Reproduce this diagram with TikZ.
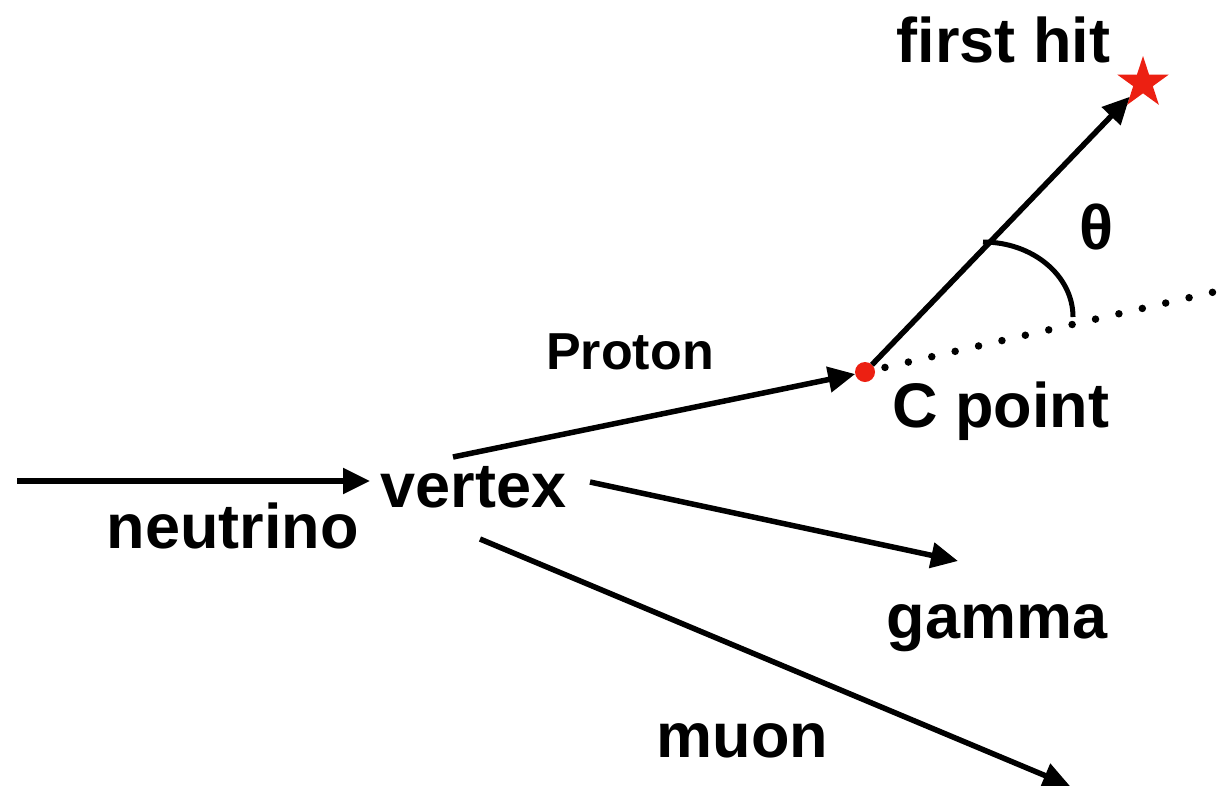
\documentclass[tikz,border=0pt]{standalone}
\usepackage{fontspec}
\setmainfont{Liberation Sans}
\usetikzlibrary{arrows.meta,shapes.geometric}
\definecolor{hitred}{RGB}{236,32,18}
\tikzset{
  every node/.style={inner sep=0pt, outer sep=0pt},
  lbl/.style={anchor=base, font=\fontsize{63}{63}\selectfont\bfseries},
  smalllbl/.style={anchor=base, font=\fontsize{52}{52}\selectfont\bfseries},
  track/.style={line width=5.5pt, -{Triangle[length=27pt, width=25pt]}},
  guide/.style={line width=7.5pt, line cap=round, dash pattern=on 0pt off 24pt, dash phase=3.5pt},
  anglearc/.style={line width=5pt},
}
\begin{document}
\begin{tikzpicture}[x=1pt, y=-1pt]
  \useasboundingbox (0,0) rectangle (1231,785);
  \clip (0,0) rectangle (1231,785);

  % labels
  \node[lbl] (firsthit) at (1003.5,62) {first hit};
  \node[smalllbl] (proton) at (630,369) {Proton};
  \node[lbl] (cpoint) at (1001,427) {C point};
  \node[lbl] (vertex) at (473.5,507) {vertex};
  \node[lbl] (neutrino) at (232.5,548) {neutrino};
  \node[lbl] (gamma) at (997,638) {gamma};
  \node[lbl] (muon) at (742.5,757) {muon};
  \node[lbl] (theta) at (1097,249) {θ};

  % end points of the tracks
  \coordinate (nustart) at (17,481);
  \coordinate (nutip) at (370,481);
  \coordinate (pstart) at (453,457);
  \coordinate (gstart) at (590,482);
  \coordinate (gtip) at (958,561);
  \coordinate (mstart) at (480,539);
  \coordinate (mtip) at (1070,786);
  \coordinate (guideend) at (1240,286);
  \coordinate (arcstart) at (983,242);

  % extension of the proton direction (drawn below the C point)
  \coordinate (cc) at (865,372);
  \draw[guide] (cc) -- (guideend);

  % C point and first hit
  \node[circle, fill=hitred, minimum size=20pt] (C) at (cc) {};
  \node[star, star points=5, star point ratio=2.618, fill=hitred, minimum size=54pt] (hit) at (1143,83) {};

  % tracks
  \draw[track] (nustart) -- (nutip);
  \draw[track] (pstart) -- (C);
  \draw[track] (gstart) -- (gtip);
  \draw[track] (mstart) -- (mtip);
  \draw[track] (C) -- (hit);

  % opening angle
  \draw[anglearc] (arcstart) arc[start angle=-90, end angle=0, x radius=90, y radius=75];
\end{tikzpicture}
\end{document}
